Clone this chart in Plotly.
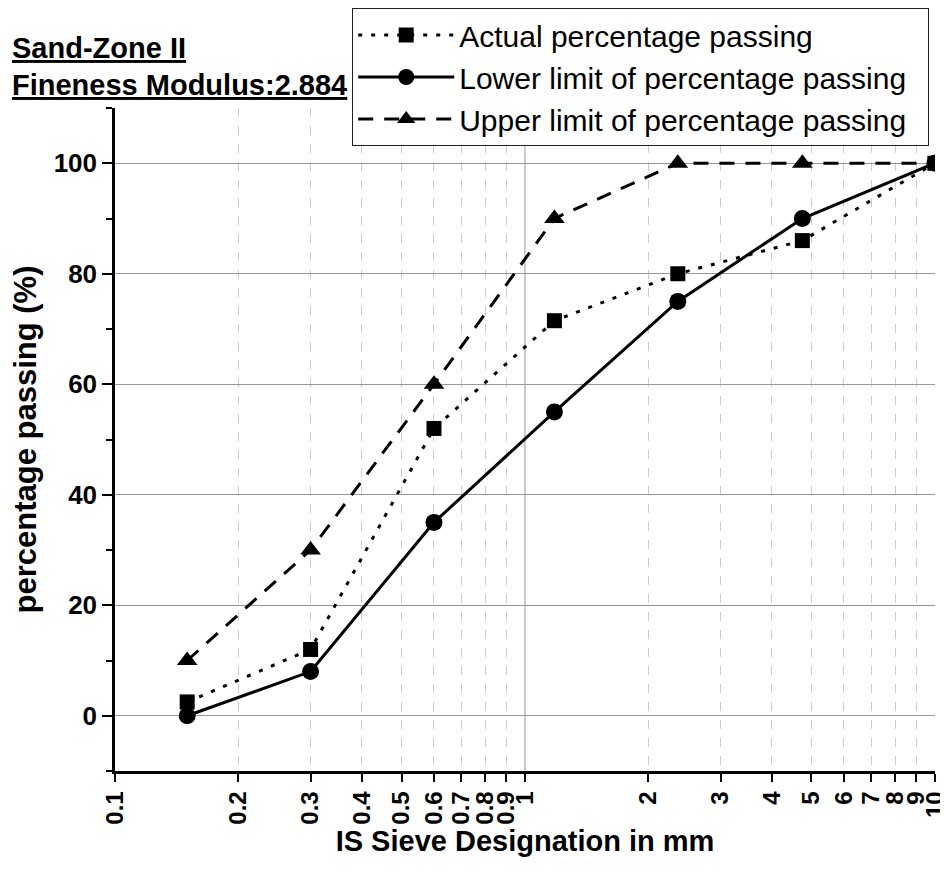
import plotly.graph_objects as go

sieve_mm = [0.15, 0.3, 0.6, 1.18, 2.36, 4.75, 10]
actual_passing = [2.5, 12, 52, 71.5, 80, 86, 100]
lower_limit = [0, 8, 35, 55, 75, 90, 100]
upper_limit = [10, 30, 60, 90, 100, 100, 100]

x_tickvals = [0.1, 0.2, 0.3, 0.4, 0.5, 0.6, 0.7, 0.8, 0.9, 1, 2, 3, 4, 5, 6, 7, 8, 9, 10]
x_ticktext = ["0.1", "0.2", "0.3", "0.4", "0.5", "0.6", "0.7", "0.8", "0.9", "1",
              "2", "3", "4", "5", "6", "7", "8", "9", "10"]
x_minor_grid = [0.2, 0.3, 0.4, 0.5, 0.6, 0.7, 0.8, 0.9, 2, 3, 4, 5, 6, 7, 8, 9]
y_tickvals = [0, 20, 40, 60, 80, 100]

FONT = "Liberation Sans, Arial, sans-serif"
PAD = "\u00a0\u00a0"

fig = go.Figure()
fig.add_trace(go.Scatter(
    x=sieve_mm, y=actual_passing, mode="lines+markers",
    name="Actual percentage passing" + PAD,
    line=dict(color="black", width=3, dash="4px,9px"),
    marker=dict(symbol="square", size=15, color="black"),
))
fig.add_trace(go.Scatter(
    x=sieve_mm, y=lower_limit, mode="lines+markers",
    name="Lower limit of percentage passing" + PAD,
    line=dict(color="black", width=3),
    marker=dict(symbol="circle", size=17, color="black"),
))
fig.add_trace(go.Scatter(
    x=sieve_mm, y=upper_limit, mode="lines+markers",
    name="Upper limit of percentage passing" + PAD,
    line=dict(color="black", width=3, dash="15px,11px"),
    marker=dict(symbol="triangle-up", size=18, color="black"),
))

fig.add_vline(x=1, line=dict(color="#999999", width=1), layer="below")

fig.update_layout(
    width=940, height=864,
    margin=dict(l=107, r=13, t=100, b=101, autoexpand=False),
    plot_bgcolor="white", paper_bgcolor="white",
    font=dict(family=FONT, color="black"),
    showlegend=True,
    legend=dict(
        xref="container", yref="container",
        x=0.98, xanchor="right", y=1.0, yanchor="top",
        bgcolor="white", bordercolor="#222222", borderwidth=1,
        font=dict(family=FONT, size=30, color="black"),
        itemwidth=96, tracegroupgap=0,
    ),
    xaxis=dict(
        type="log", range=[-1, 1.0003], automargin=False,
        tickmode="array", tickvals=x_tickvals, ticktext=x_ticktext,
        tickangle=-90, ticks="outside", ticklen=8, tickwidth=2, tickcolor="black",
        tickfont=dict(family=FONT, size=24, color="black", weight="bold"),
        showline=True, linecolor="black", linewidth=2.5,
        showgrid=False, zeroline=False,
        minor=dict(tickmode="array", tickvals=x_minor_grid, showgrid=True,
                   gridcolor="#cccccc", gridwidth=1, griddash="dash", ticks=""),
        title=dict(text="<b>IS Sieve Designation in mm</b>",
                   font=dict(family=FONT, size=29, color="black"), standoff=2),
    ),
    yaxis=dict(
        range=[-10, 110], automargin=False,
        tickmode="array", tickvals=y_tickvals,
        ticks="outside", ticklen=10, tickwidth=2, tickcolor="black",
        tickfont=dict(family=FONT, size=26, color="black", weight="bold"),
        showline=True, linecolor="black", linewidth=2.5,
        showgrid=True, gridcolor="#999999", gridwidth=1, zeroline=False,
        minor=dict(dtick=10, tick0=0, ticks="outside", ticklen=6, tickwidth=2,
                   tickcolor="black", showgrid=False),
        title=dict(text="<b>percentage passing (%)</b>",
                   font=dict(family=FONT, size=31, color="black"), standoff=8),
    ),
    annotations=[
        dict(text="<b><u>Sand-Zone II</u></b>", xref="paper", yref="paper",
             x=-0.128, y=1.0905, xanchor="left", yanchor="middle", showarrow=False,
             font=dict(family=FONT, size=29, color="black")),
        dict(text="<b><u>Fineness Modulus:2.884</u></b>", xref="paper", yref="paper",
             x=-0.128, y=1.0347, xanchor="left", yanchor="middle", showarrow=False,
             font=dict(family=FONT, size=29, color="black")),
    ],
)

fig.write_html("out.html")
